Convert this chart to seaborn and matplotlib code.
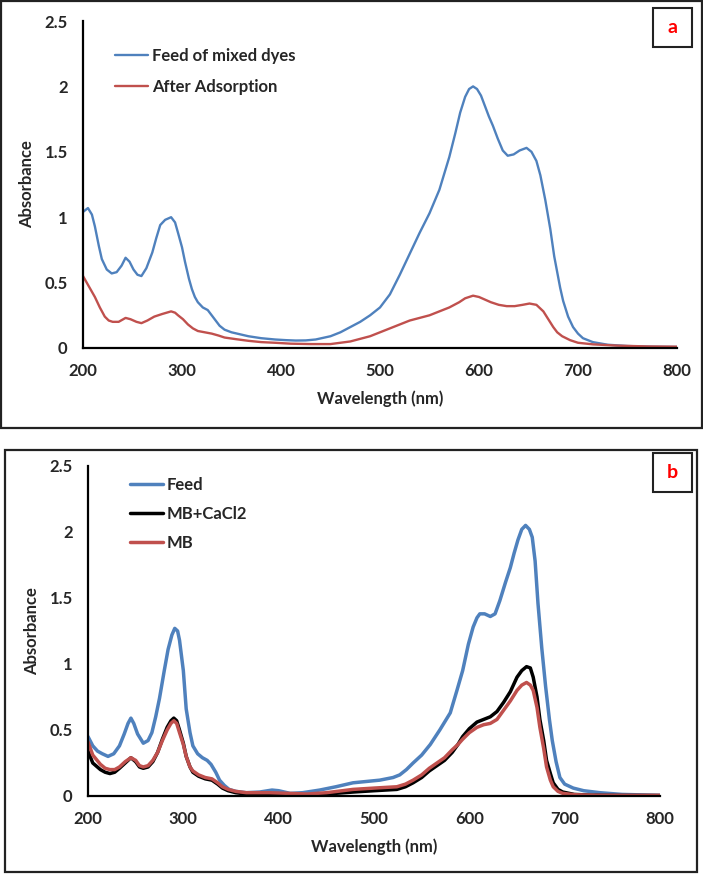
import numpy as np
import pandas as pd
import seaborn as sns
import matplotlib.pyplot as plt
from matplotlib.patches import Rectangle

# ---- data (wavelength nm, absorbance) ----
# panel a
a_feed_wl = [200, 205, 209, 212, 216, 219, 224, 229, 234, 239, 243, 247, 251, 255, 259, 264, 270,
             274, 278, 283, 289, 293, 296, 300, 303, 307, 310, 313, 316, 321, 326, 330, 333, 338,
             343, 350, 367, 380, 394, 405, 415, 425, 435, 450, 460, 470, 480, 490, 500, 510, 520,
             530, 540, 550, 560, 570, 576, 581, 586, 590, 594, 598, 602, 606, 610, 614, 619, 624,
             629, 635, 641, 648, 653, 658, 662, 667, 672, 676, 679, 682, 685, 690, 695, 700, 705,
             715, 730, 750, 775, 800]
a_feed_abs = [1.04, 1.07, 1.02, 0.93, 0.78, 0.68, 0.60, 0.57, 0.58, 0.63, 0.69, 0.66, 0.60, 0.56,
              0.55, 0.61, 0.73, 0.84, 0.94, 0.98, 1.00, 0.96, 0.88, 0.77, 0.66, 0.53, 0.45, 0.39,
              0.35, 0.31, 0.29, 0.25, 0.22, 0.17, 0.14, 0.12, 0.09, 0.075, 0.065, 0.06, 0.057,
              0.058, 0.065, 0.09, 0.12, 0.16, 0.20, 0.25, 0.31, 0.41, 0.56, 0.72, 0.88, 1.03,
              1.21, 1.46, 1.64, 1.80, 1.92, 1.98, 2.00, 1.98, 1.93, 1.85, 1.77, 1.70, 1.60, 1.51,
              1.47, 1.48, 1.51, 1.53, 1.50, 1.43, 1.32, 1.13, 0.91, 0.70, 0.58, 0.46, 0.36, 0.24,
              0.16, 0.11, 0.075, 0.045, 0.025, 0.015, 0.01, 0.008]

a_after_wl = [200, 206, 212, 217, 222, 226, 230, 236, 243, 248, 254, 259, 265, 272, 280, 289, 293,
              296, 301, 306, 311, 316, 323, 330, 337, 343, 355, 367, 380, 394, 410, 430, 450, 470,
              490, 510, 530, 550, 570, 580, 586, 594, 600, 606, 612, 620, 628, 636, 644, 651, 658,
              665, 670, 675, 679, 684, 692, 700, 715, 740, 770, 800]
a_after_abs = [0.55, 0.47, 0.39, 0.31, 0.24, 0.21, 0.20, 0.20, 0.23, 0.22, 0.20, 0.19, 0.21, 0.24,
               0.26, 0.28, 0.27, 0.25, 0.22, 0.18, 0.15, 0.13, 0.12, 0.11, 0.095, 0.08, 0.067,
               0.055, 0.045, 0.04, 0.033, 0.03, 0.03, 0.05, 0.09, 0.15, 0.21, 0.25, 0.31, 0.35,
               0.38, 0.40, 0.39, 0.37, 0.35, 0.33, 0.32, 0.32, 0.33, 0.34, 0.33, 0.28, 0.22, 0.16,
               0.12, 0.09, 0.06, 0.04, 0.028, 0.018, 0.012, 0.01]

# panel b
b_feed_wl = [200, 205, 210, 215, 221, 227, 233, 238, 242, 245, 248, 252, 258, 263, 267, 271, 275,
             280, 284, 288, 291, 294, 296, 300, 303, 307, 310, 315, 320, 325, 329, 334, 338, 343,
             348, 355, 366, 380, 393, 400, 412, 425, 443, 460, 478, 492, 506, 520, 527, 534, 541,
             550, 559, 569, 580, 587, 593, 599, 604, 608, 611, 616, 622, 627, 632, 638, 643, 647,
             651, 655, 659, 663, 666, 669, 672, 676, 680, 684, 687, 691, 695, 700, 709, 720, 737,
             760, 800]
b_feed_abs = [0.45, 0.38, 0.34, 0.32, 0.30, 0.32, 0.38, 0.47, 0.55, 0.59, 0.55, 0.47, 0.40, 0.42,
              0.48, 0.60, 0.74, 0.95, 1.11, 1.22, 1.27, 1.25, 1.18, 0.95, 0.66, 0.48, 0.38, 0.32,
              0.29, 0.27, 0.24, 0.18, 0.12, 0.08, 0.05, 0.035, 0.025, 0.03, 0.045, 0.04, 0.02,
              0.025, 0.045, 0.07, 0.10, 0.11, 0.12, 0.14, 0.16, 0.20, 0.25, 0.31, 0.39, 0.50,
              0.63, 0.80, 0.95, 1.15, 1.28, 1.35, 1.38, 1.38, 1.36, 1.38, 1.48, 1.62, 1.73, 1.84,
              1.94, 2.02, 2.05, 2.02, 1.96, 1.78, 1.46, 1.12, 0.83, 0.58, 0.42, 0.26, 0.14, 0.09,
              0.06, 0.04, 0.025, 0.012, 0.005]

b_ca_wl = [200, 205, 213, 218, 223, 228, 233, 239, 245, 250, 254, 258, 263, 268, 273, 278, 283,
           287, 290, 293, 296, 300, 303, 307, 310, 316, 323, 330, 336, 341, 347, 355, 366, 390, 410,
           430, 450, 478, 500, 524, 533, 541, 550, 558, 566, 574, 582, 588, 593, 600, 608, 615, 622,
           629, 636, 643, 650, 655, 660, 664, 667, 671, 674, 678, 681, 685, 688, 693, 698, 710, 730,
           760, 800]
b_ca_abs = [0.34, 0.25, 0.20, 0.18, 0.17, 0.18, 0.21, 0.25, 0.29, 0.26, 0.22, 0.21, 0.22, 0.26,
            0.33, 0.43, 0.52, 0.57, 0.59, 0.57, 0.50, 0.40, 0.30, 0.22, 0.18, 0.15, 0.13, 0.12,
            0.09, 0.06, 0.04, 0.025, 0.015, 0.012, 0.01, 0.008, 0.015, 0.03, 0.04, 0.05, 0.07,
            0.10, 0.14, 0.19, 0.23, 0.27, 0.33, 0.39, 0.45, 0.51, 0.56, 0.58, 0.60, 0.64, 0.71,
            0.79, 0.90, 0.95, 0.98, 0.97, 0.90, 0.75, 0.58, 0.42, 0.27, 0.17, 0.10, 0.05, 0.03,
            0.012, 0.006, 0.004, 0.003]

b_mb_wl = b_ca_wl
b_mb_abs = [0.41, 0.31, 0.24, 0.21, 0.20, 0.20, 0.22, 0.26, 0.29, 0.27, 0.23, 0.22, 0.23, 0.27,
            0.33, 0.42, 0.50, 0.55, 0.57, 0.55, 0.48, 0.39, 0.30, 0.22, 0.19, 0.16, 0.14, 0.13,
            0.10, 0.07, 0.05, 0.035, 0.025, 0.025, 0.02, 0.015, 0.025, 0.05, 0.06, 0.07, 0.09,
            0.12, 0.16, 0.21, 0.25, 0.29, 0.35, 0.39, 0.43, 0.48, 0.52, 0.54, 0.55, 0.58, 0.65,
            0.72, 0.80, 0.84, 0.86, 0.84, 0.80, 0.67, 0.52, 0.36, 0.22, 0.12, 0.07, 0.035, 0.02,
            0.01, 0.006, 0.005, 0.005]

BLUE = '#4F81BD'
RED = '#C0504D'

df_a = pd.concat([
    pd.DataFrame({'wl': a_feed_wl, 'abs': a_feed_abs, 'series': 'Feed of mixed dyes'}),
    pd.DataFrame({'wl': a_after_wl, 'abs': a_after_abs, 'series': 'After Adsorption'}),
])
df_b = pd.concat([
    pd.DataFrame({'wl': b_feed_wl, 'abs': b_feed_abs, 'series': 'Feed'}),
    pd.DataFrame({'wl': b_ca_wl, 'abs': b_ca_abs, 'series': 'MB+CaCl2'}),
    pd.DataFrame({'wl': b_mb_wl, 'abs': b_mb_abs, 'series': 'MB'}),
])

sns.set_style('white')
plt.rcParams['font.family'] = ['Lato', 'DejaVu Sans']
plt.rcParams['font.weight'] = 'bold'
plt.rcParams['lines.solid_joinstyle'] = 'round'

fig = plt.figure(figsize=(7.03, 8.74), dpi=100)
W, H = 703, 874

def px_axes(left, top, right, bottom):
    return fig.add_axes([left / W, 1 - bottom / H, (right - left) / W, (bottom - top) / H])

def frame(x0, y0, x1, y1, lw=1.6):
    fig.patches.append(Rectangle((x0 / W, 1 - y1 / H), (x1 - x0) / W, (y1 - y0) / H,
                                 transform=fig.transFigure, fill=False, ec='#222222', lw=lw,
                                 zorder=5))

def tag(x0, y0, x1, y1, letter):
    fig.patches.append(Rectangle((x0 / W, 1 - y1 / H), (x1 - x0) / W, (y1 - y0) / H,
                                 transform=fig.transFigure, fc='white', ec='#222222', lw=1.5,
                                 zorder=5))
    fig.text((x0 + x1) / 2 / W, 1 - (y0 + y1) / 2 / H, letter, ha='center', va='center',
             color='red', fontsize=14, fontweight='bold', zorder=6)

def style_axes(ax, legend_anchor, spacing):
    ax.set_xlim(200, 800)
    ax.set_ylim(0, 2.5)
    ax.set_xticks([200, 300, 400, 500, 600, 700, 800])
    ax.set_yticks([0, 0.5, 1, 1.5, 2, 2.5])
    ax.set_yticklabels(['0', '0.5', '1', '1.5', '2', '2.5'])
    ax.tick_params(length=0, labelsize=12, pad=11)
    for s in ['top', 'right']:
        ax.spines[s].set_visible(False)
    for s in ['left', 'bottom']:
        ax.spines[s].set_color('black')
        ax.spines[s].set_linewidth(1.6)
    ax.set_xlabel('Wavelength (nm)', fontsize=12, fontweight='bold', labelpad=8)
    ax.set_ylabel('Absorbance', fontsize=12, fontweight='bold', labelpad=7)
    ax.legend(loc='upper left', bbox_to_anchor=legend_anchor, frameon=False, fontsize=12,
              handlelength=2.0, handletextpad=0.2, labelspacing=spacing, borderpad=0,
              borderaxespad=0)

# panel a
frame(1, 1, 702, 428)
ax1 = px_axes(83, 21, 677, 348)
sns.lineplot(data=df_a, x='wl', y='abs', hue='series', palette=[BLUE, RED],
             estimator=None, sort=True, linewidth=1.7, ax=ax1)
style_axes(ax1, (0.054, 0.918), 0.9)
tag(653, 8, 692, 47, 'a')

# panel b
frame(5, 450, 697, 872)
ax2 = px_axes(88, 466, 660, 796)
sns.lineplot(data=df_b, x='wl', y='abs', hue='series', palette=[BLUE, 'black', RED],
             estimator=None, sort=True, linewidth=2.5, ax=ax2)
style_axes(ax2, (0.073, 0.967), 0.78)
tag(653, 453, 692, 492, 'b')

fig.savefig('out.png', dpi=100)
